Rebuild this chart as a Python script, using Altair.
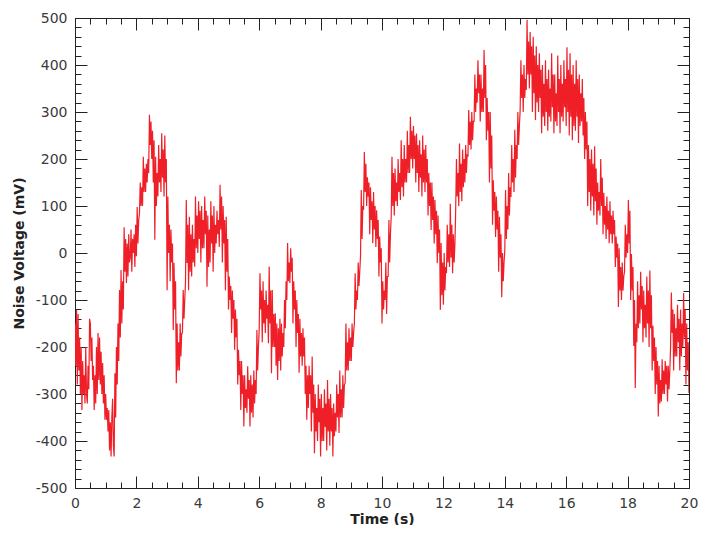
import altair as alt
import numpy as np
import pandas as pd

voltage_00_02 = [
    -150, -240, -121, -280,  -130, -250, -180, -300,  -200, -334, -230, -300,
    -260, -320, -200, -300,  -320, -240, -290, -140,  -150, -230, -180, -270,
    -240, -334, -260, -320,  -200, -300, -170, -270,  -180, -280, -210, -300,
    -234, -320, -260, -355,  -300, -355, -330, -380,  -334, -420, -360, -433,
    -350, -310, -410, -433,  -256, -350, -200, -280,  -150, -230, -79, -180,
    -36, -150, -60, -120,  55, -40, 30, -64,  20, -50, 40, -20,
    -10, 50, -40, 30,  0, 40, -30, 60,
]
voltage_02_04 = [
    -7, 98, 20, 70,  84, 150, 100, 140,  100, 205, 130, 180,  130, 190, 150, 200,
    170, 294, 230, 280,  200, 260, 150, 240,  28, 205, 100, 170,  120, 230, 150, 200,
    130, 255, 160, 220,  120, 250, 150, 200,  -79, 120, 0, 60,  -60, 50, -20, 20,
    -164, -21, -120, -60,  -277, -150, -250, -190,  -250, -150, -220, -171,
    -170, -79, -140, -100,  -60, 113, -21, 60,  -79, 77, -40, 40,
    -50, 60, -20, 30,  -29, 120, 10, 80,
]
voltage_04_06 = [
    0, 110, 30, 90,  -20, 100, 10, 70,  10, 120, 40, 90,  -72, 80, -30, 50,
    -20, 110, 20, 80,  -40, 100, 0, 60,  20, 90, 40, 70,  13, 145, 50, 120,
    -20, 100, 20, 70,  -79, 77, -40, 30,  -120, -50, -100, -70,  -170, -80, -140, -100,
    -206, -120, -180, -140,  -280, -206, -260, -230,  -334, -230, -300, -260,
    -369, -260, -330, -290,  -340, -241, -310, -270,  -369, -260, -340, -280,
    -350, -250, -320, -270,  -300, -164, -250, -200,
]
voltage_06_08 = [
    -164, -43, -120, -80,  -190, -60, -150, -100,  -170, -80, -140, -110,
    -192, -29, -150, -80,  -256, -79, -200, -130,  -200, -128, -240, -150,
    -270, -160, -230, -140,  -250, -150, -220, -170,  -200, -100, -160, -60,
    -100, 21, -60, -20,  -64, 10, -40, -10,  -150, -60, -120, -80,
    -200, -100, -170, -130,  -255, -140, -220, -170,  -240, -160, -220, -180,
    -300, -240, -355, -260,  -330, -240, -300, -260,  -380, -220, -340, -280,
    -426, -300, -380, -330,  -400, -280, -360, -310,
]
voltage_08_10 = [
    -433, -300, -400, -330,  -400, -290, -370, -320,  -420, -270, -380, -310,
    -410, -300, -380, -330,  -433, -320, -390, -340,  -380, -280, -350, -300,
    -383, -250, -350, -290,  -350, -260, -330, -280,  -277, -150, -250, -190,
    -250, -160, -230, -180,  -230, -150, -200, -170,  -150, -43, -120, -80,
    -100, -20, -70, -40,  -7, 134, 30, 100,  92, 215, 130, 190,
    100, 161, 120, 150,  40, 140, 70, 110,  21, 130, 50, 100,
    13, 91, 30, 70,  -50, 35, -20, 10,
]
voltage_10_12 = [
    -150, -60, -120, -80,  -100, -20, -130, -50,  -50, 70, -20, 40,  77, 205, 100, 170,
    80, 180, 110, 150,  100, 200, 130, 170,  113, 240, 140, 200,  120, 230, 150, 200,
    150, 260, 170, 230,  170, 290, 200, 260,  180, 270, 200, 250,  150, 254, 170, 230,
    130, 240, 160, 210,  120, 250, 150, 220,  130, 230, 150, 200,  80, 170, 100, 150,
    49, 150, 70, 120,  20, 113, 40, 90,  -22, 80, 0, 50,  -121, 21, -90, -20,
]
voltage_12_14 = [
    -110, 0, -80, -30,  -43, 60, -20, 40,  -30, 105, -10, 60,  -43, 40, -20, 20,
    91, 200, 120, 170,  100, 233, 130, 190,  110, 220, 140, 200,  150, 230, 170, 210,
    205, 304, 230, 280,  220, 300, 240, 280,  280, 380, 300, 350,  320, 410, 340, 380,
    280, 380, 300, 350,  300, 432, 330, 400,  240, 330, 260, 300,  150, 300, 180, 250,
    60, 155, 90, 130,  34, 120, 50, 90,  -40, 77, -10, 40,  -94, 0, -60, -20,
]
voltage_14_16 = [
    6, 134, 30, 100,  50, 170, 80, 140,  119, 230, 150, 200,  130, 262, 160, 230,
    200, 300, 230, 270,  304, 410, 330, 380,  300, 400, 330, 370,  347, 496, 380, 450,
    350, 470, 380, 440,  300, 460, 340, 420,  283, 440, 320, 400,  300, 425, 330, 390,
    255, 400, 290, 360,  270, 410, 300, 370,  260, 390, 290, 350,  280, 425, 310, 380,
    255, 380, 280, 340,  270, 420, 300, 370,  255, 400, 290, 360,  280, 410, 310, 370,
]
voltage_16_18 = [
    270, 438, 300, 390,  250, 425, 290, 380,  240, 400, 270, 360,  260, 410, 290, 370,
    234, 380, 270, 340,  280, 370, 250, 330,  200, 300, 220, 280,  100, 230, 130, 200,
    90, 220, 120, 190,  80, 227, 110, 180,  60, 150, 90, 130,  80, 200, 100, 160,
    40, 128, 60, 100,  30, 120, 50, 90,  21, 110, 40, 80,  20, 90, 40, 70,
    -30, 35, -10, 20,  -115, 10, -80, -30,  -100, -20, -80, -50,  -40, 60, -10, 40,
]
voltage_18_20 = [
    0, 113, 20, 90,  -100, -2, -80, -30,  -198, -100, -287, -150,  -190, -60, -160, -90,
    -150, -40, -120, -70,  -190, -80, -160, -110,  -180, -50, -150, -80,  -200, -37, -160, -90,
    -250, -155, -230, -180,  -300, -200, -280, -230,  -348, -240, -320, -270,
    -316, -226, -300, -250,  -300, -230, -280, -240,  -316, -240, -290, -250,
    -200, -84, -170, -120,  -250, -130, -220, -160,  -220, -110, -190, -140,
    -250, -120, -220, -150,  -200, -85, -180, -120,  -280, -150, -250, -190,
    -298,
]

x_major = [0, 2, 4, 6, 8, 10, 12, 14, 16, 18, 20]
y_major = [-500, -400, -300, -200, -100, 0, 100, 200, 300, 400, 500]
x_minor = [round(0.5 * i, 2) for i in range(41)]
y_minor = [20 * i - 500 for i in range(51)]

voltage = (voltage_00_02 + voltage_02_04 + voltage_04_06 + voltage_06_08 + voltage_08_10
           + voltage_10_12 + voltage_12_14 + voltage_14_16 + voltage_16_18 + voltage_18_20)
time = np.linspace(0, 20, len(voltage))
df = pd.DataFrame({"t": time, "v": voltage})

FONT = "DejaVu Sans"
xscale = alt.Scale(domain=[0, 20], nice=False, zero=False)
yscale = alt.Scale(domain=[-500, 500], nice=False, zero=False)


def label_axis(orient, values, title, lpad, tpad):
    return alt.Axis(orient=orient, values=values, ticks=False, domain=False, grid=False,
                    labelExpr="'' + datum.value", labelFont=FONT, labelFontSize=14,
                    labelColor="#3a3a3a", labelPadding=lpad, labelFlush=False,
                    labelOverlap=False,
                    title=title, titleFont=FONT, titleFontSize=14, titleFontWeight="bold",
                    titleColor="#222222", titlePadding=tpad)


def tick_axis(orient, values, size):
    return alt.Axis(orient=orient, values=values, labels=False, domain=False, grid=False,
                    ticks=True, tickSize=alt.ExprRef(expr=str(-size)), tickColor="#222222",
                    tickWidth=1, title=None)


def layer(xaxis, yaxis, visible):
    return alt.Chart(df).mark_line(
        color="#ef1f28", strokeWidth=1.2, opacity=1 if visible else 0, clip=True
    ).encode(
        x=alt.X("t:Q", scale=xscale, axis=xaxis),
        y=alt.Y("v:Q", scale=yscale, axis=yaxis),
    )


main = layer(label_axis("bottom", x_major, "Time (s)", 8, 2),
             label_axis("left", y_major, "Noise Voltage (mV)", 8, 9), True)
l1 = layer(tick_axis("bottom", x_major, 12), tick_axis("left", y_major, 12), False)
l2 = layer(tick_axis("bottom", x_minor, 6), tick_axis("left", y_minor, 6), False)
l3 = layer(tick_axis("top", x_major, 12), tick_axis("right", y_major, 12), False)
l4 = layer(tick_axis("top", x_minor, 6), tick_axis("right", y_minor, 6), False)

chart = alt.layer(l1, l2, l3, l4, main).resolve_axis(
    x="independent", y="independent"
).properties(
    width=614, height=470,
    padding={"left": 67, "top": 10, "right": 10, "bottom": 37},
    autosize=alt.AutoSizeParams(type="none"),
    background="white",
).configure_view(stroke="#222222", strokeWidth=1)

chart.save("out.html", embed_options={"renderer": "svg", "actions": False})
